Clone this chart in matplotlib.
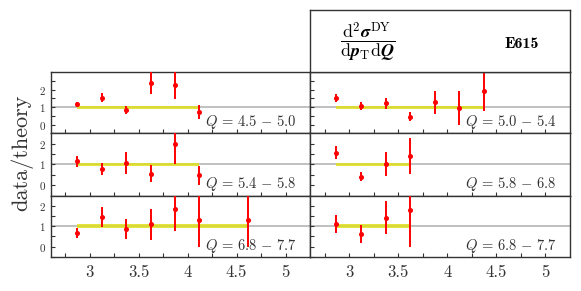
import matplotlib
matplotlib.use('Agg')
import matplotlib.pyplot as plt
import numpy as np

plt.rcParams['font.family'] = 'serif'
plt.rcParams['font.serif'] = ['cmr10']
plt.rcParams['mathtext.fontset'] = 'cm'
plt.rcParams['axes.formatter.use_mathtext'] = True

# pT bin centres
pt_all = [2.87, 3.12, 3.37, 3.62, 3.87, 4.12, 4.37, 4.62]

# left column
q_left = ['4.5-5.0', '5.4-5.8', '6.8-7.7']
x_left = [pt_all[:6], pt_all[:6], pt_all[:5] + [4.12, 4.62]]
y_left = [[1.17, 1.54, 0.85, 2.40, 2.29, 0.70],
          [1.15, 0.78, 1.07, 0.55, 1.98, 0.47],
          [0.66, 1.44, 0.85, 1.08, 1.83, 1.29, 1.29]]
e_left = [[0.15, 0.25, 0.24, 0.67, 0.80, 0.40],
          [0.26, 0.28, 0.52, 0.40, 0.98, 0.45],
          [0.26, 0.49, 0.49, 0.74, 1.05, 1.29, 1.29]]

# right column
q_right = ['5.0-5.4', '5.8-6.8', '6.8-7.7']
x_right = [pt_all[:7], pt_all[:4], pt_all[:4]]
y_right = [[1.54, 1.08, 1.23, 0.46, 1.27, 0.94, 1.94],
           [1.57, 0.41, 1.03, 1.41],
           [1.10, 0.61, 1.42, 1.79]]
e_right = [[0.22, 0.24, 0.32, 0.24, 0.64, 0.96, 1.14],
           [0.30, 0.22, 0.59, 0.85],
           [0.45, 0.42, 0.83, 1.79]]

ylims = [(-0.5, 3.0), (-0.5, 2.5), (-0.5, 2.5)]

fig = plt.figure(figsize=(5.81, 2.91), dpi=100)
W, H = 581.0, 291.0
cols = [(50.7, 310.0), (310.0, 570.0)]
rows = [(72.3, 133.3), (133.3, 195.5), (195.5, 256.7)]


def panel(ax, x, y, e, q, ylim, col, row):
    ax.set_xlim(2.6, 5.25)
    ax.set_ylim(*ylim)
    ax.axhline(1, color='#bbbbbb', lw=1.3, zorder=1)
    xx = np.array([x[0], x[-1]])
    ax.fill_between(xx, 0.92, 1.08, color='#dede20', alpha=0.85, lw=0, zorder=2)
    ax.errorbar(x, y, yerr=e, fmt='o', color='red', ms=2.6, lw=1.4, capsize=0, zorder=3)
    lo, hi = q.split('-')
    ax.text(0.949, 0.116, r'$Q\,=\,%s\,-\,%s$' % (lo, hi), transform=ax.transAxes,
            ha='right', va='baseline', fontsize=10.5, color='#333333')
    ax.set_xticks([3, 3.5, 4, 4.5, 5])
    ax.set_xticks(np.arange(2.75, 5.25, 0.25), minor=True)
    ax.set_yticks([0, 1, 2])
    ax.set_yticks(np.arange(-0.5, ylim[1], 0.5), minor=True)
    ax.tick_params(which='both', direction='in', length=3, width=0.8, color='#333333',
                   labelsize=8, labelcolor='#333333')
    ax.tick_params(axis='x', labelsize=12, pad=6)
    ax.set_xticklabels(['3', '3.5', '4', '4.5', '5'])
    if row < 2:
        ax.tick_params(axis='x', labelbottom=False)
    if col == 1:
        ax.tick_params(axis='y', labelleft=False)
    for s in ax.spines.values():
        s.set_color('#333333')
        s.set_linewidth(1.0)


axes = []
for c in range(2):
    for r in range(3):
        x0, x1 = cols[c]
        y0, y1 = rows[r]
        ax = fig.add_axes([x0 / W, 1 - y1 / H, (x1 - x0) / W, (y1 - y0) / H])
        if c == 0:
            panel(ax, x_left[r], y_left[r], e_left[r], q_left[r], ylims[r], c, r)
        else:
            panel(ax, x_right[r], y_right[r], e_right[r], q_right[r], ylims[r], c, r)
        axes.append(ax)

fig.text(21.7 / W, 1 - 153 / H, 'data/theory', rotation=90,
         ha='center', va='center', fontsize=16, color='#333333')

# header box
bx = fig.add_axes([310 / W, 1 - 72.3 / H, 260 / W, 62.3 / H])
bx.set_xticks([])
bx.set_yticks([])
for s in bx.spines.values():
    s.set_color('#333333')
    s.set_linewidth(1.0)
bx.text(0.223, 0.48,
        r'$\dfrac{\mathrm{d}^2\boldsymbol{\sigma}^{\mathrm{DY}}}{\mathrm{d}\boldsymbol{p}_{\mathrm{T}}\mathrm{d}\boldsymbol{Q}}$',
        transform=bx.transAxes, ha='center', va='center', fontsize=13)
bx.text(0.814, 0.46, 'E615', family='cmb10', transform=bx.transAxes,
        ha='center', va='center', fontsize=11.5)

fig.savefig('out.png', dpi=100)
